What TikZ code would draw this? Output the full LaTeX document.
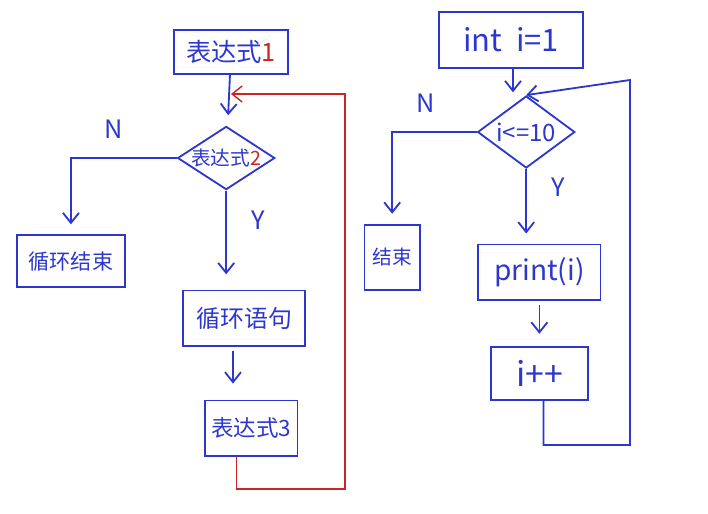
\documentclass[tikz,border=0pt]{standalone}
\usepackage{fontspec}
\setmainfont{Noto Sans CJK SC}
\usetikzlibrary{shapes.geometric, positioning, arrows.meta}
\definecolor{inkblue}{RGB}{45,55,205}
\definecolor{inkred}{RGB}{205,35,35}

\begin{document}
\begin{tikzpicture}[x=0.025cm,y=-0.025cm,node distance=2.5cm,on grid,auto,
    line width=1.3pt, color=inkblue, >={Straight Barb[length=2.5mm,width=4mm]},
    box/.style={draw, rectangle, inner sep=1pt, font=\fontsize{17}{20}\selectfont},
    decision/.style={draw, diamond, inner sep=0pt, font=\fontsize{14}{17}\selectfont},
    tag/.style={font=\fontsize{18}{20}\selectfont}]
    \useasboundingbox (0,0) rectangle (708,513);
    % left chart
    \node[box, minimum width=2.83cm, minimum height=1.08cm, font=\fontsize{18}{20}\selectfont] (A) at (231,52) {表达式\textcolor{inkred}{1}};
    \node[decision, minimum width=2.43cm, minimum height=1.58cm] (B) [below=2.65cm of A, xshift=-0.12cm] {\makebox[0pt]{表达式\textcolor{inkred}{2}}};
    \node[box, minimum width=2.7cm, minimum height=1.3cm, font=\fontsize{15}{17}\selectfont] (C) [below left=2.58cm and 3.88cm of B] {循环结束};
    \node[box, minimum width=3.05cm, minimum height=1.38cm] (D) [below right=4cm and 0.45cm of B] {循环语句};
    \node[box, minimum width=2.3cm, minimum height=1.38cm, font=\fontsize{16}{19}\selectfont] (E) [below=2.75cm of D, xshift=0.18cm] {表达式3};
    \coordinate (r1) at (345,489);
    \coordinate (r2) at (345,94);
    \path[->]
    (A) edge[shorten >=8pt] (B);
    \draw[->, shorten >=0.25cm] (B.west) -| node[tag, pos=0.3, above=0.35cm]{N} (C.north);
    \draw[->, shorten >=0.38cm] (B.south) -- node[tag, right=0.5cm, pos=0.3]{Y} (B.south |- D.north);
    \draw[->, shorten <=0.12cm, shorten >=0.4cm] ([xshift=-0.28cm]D.south) -- ([xshift=-0.28cm]D.south |- E.north);
    \draw[->, inkred, line width=1pt] ([xshift=-0.38cm]E.south) |- (r1) -- (r2) -- (A.south |- r2);
    % right chart
    \node[box, minimum width=3.58cm, minimum height=1.4cm, font=\fontsize{22}{24}\selectfont] (F) at (511,40) {int~~i=1};
    \node[decision, minimum width=2.43cm, minimum height=1.8cm, font=\fontsize{17}{20}\selectfont] (G) [below=2.3cm of F, xshift=0.38cm] {\makebox[0pt]{i<=10}};
    \node[box, minimum width=1.38cm, minimum height=1.63cm, font=\fontsize{14}{17}\selectfont] (H) [below left=3.13cm and 3.35cm of G] {结束};
    \node[box, minimum width=3.05cm, minimum height=1.38cm, font=\fontsize{20}{22}\selectfont] (I) [below right=3.5cm and 0.33cm of G] {print(i)};
    \node[box, minimum width=2.43cm, minimum height=1.33cm, font=\fontsize{24}{26}\selectfont] (J) [below=2.53cm of I] {i++};
    \coordinate (q1) at (630,445);
    \coordinate (q2) at (630,80);
    \draw[->, shorten >=2pt] ([xshift=0.05cm]F.south) -- ([xshift=0.05cm]F.south |- G.north);
    \draw[->, shorten >=0.25cm] (G.west) -| node[tag, pos=0.3, above=0.35cm]{N} (H.north);
    \draw[->, shorten >=0.25cm] (G.south) -- node[tag, right=0.5cm, pos=0.25]{Y} (G.south |- I.north);
    \path[->]
    (I) edge[shorten <=0.12cm, shorten >=0.3cm] (J);
    \draw[->] ([xshift=0.1cm]J.south) |- (q1) -- (q2) -- (G.north);
\end{tikzpicture}
\end{document}
